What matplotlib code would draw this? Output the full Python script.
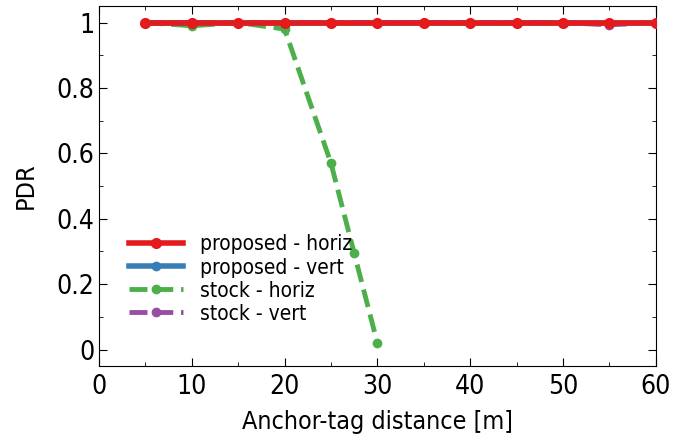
import numpy as np
import matplotlib.pyplot as plt
from matplotlib.ticker import MultipleLocator

# dane
odleglosc = [5, 10, 15, 20, 25, 30, 35, 40, 45, 50, 55, 60]
prop_horiz = [1, 1, 1, 1, 1, 1, 1, 1, 1, 1, 1, 1]
prop_vert = [1, 1, 1, 1, 1, 1, 1, 1, 1, 1, 1, 1]
stock_vert = [1, 1, 1, 1, 1, 1, 1, 1, 1, 1, 0.993, 1]
odleglosc_stock = [5, 10, 15, 20, 25, 27.5, 30]
stock_horiz = [1, 0.99, 1.0, 0.98, 0.57, 0.295, 0.02]

plt.rcParams['font.family'] = ['DejaVu Sans']
plt.rcParams['font.stretch'] = 'condensed'

fig = plt.figure(figsize=(6.83, 4.43), dpi=100)
ax = fig.add_axes([0.145, 0.174, 0.815, 0.812])

ax.plot(odleglosc, stock_vert, '--', color='#984ea3', lw=3.5, marker='o', ms=6,
        label='stock - vert', zorder=2)
ax.plot(odleglosc_stock, stock_horiz, '--', color='#4daf4a', lw=3.5, marker='o', ms=6,
        label='stock - horiz', zorder=3)
ax.plot(odleglosc, prop_vert, '-', color='#377eb8', lw=4, marker='o', ms=6,
        label='proposed - vert', zorder=4)
ax.plot(odleglosc, prop_horiz, '-', color='#e41a1c', lw=4, marker='o', ms=7,
        label='proposed - horiz', zorder=5)

ax.set_xlim(0, 60)
ax.set_ylim(-0.05, 1.05)
ax.xaxis.set_major_locator(MultipleLocator(10))
ax.xaxis.set_minor_locator(MultipleLocator(5))
ax.yaxis.set_major_locator(MultipleLocator(0.2))
ax.yaxis.set_minor_locator(MultipleLocator(0.1))
ax.set_yticks([0, 0.2, 0.4, 0.6, 0.8, 1])
ax.set_yticklabels(['0', '0.2', '0.4', '0.6', '0.8', '1'])
ax.tick_params(which='both', direction='in', top=True, right=True, labelsize=19)
ax.tick_params(axis='x', pad=6)
ax.tick_params(which='major', length=6)
ax.tick_params(which='minor', length=3)
ax.set_xlabel('Anchor-tag distance [m]', fontsize=18, labelpad=7)
ax.set_ylabel('PDR', fontsize=18, labelpad=13)

h, l = ax.get_legend_handles_labels()
ax.legend(h[::-1], l[::-1], loc='lower left', bbox_to_anchor=(0.02, 0.065),
          frameon=False, fontsize=15, handlelength=2.6, handletextpad=0.8,
          labelspacing=0.15)

fig.savefig('out.png', dpi=100)
